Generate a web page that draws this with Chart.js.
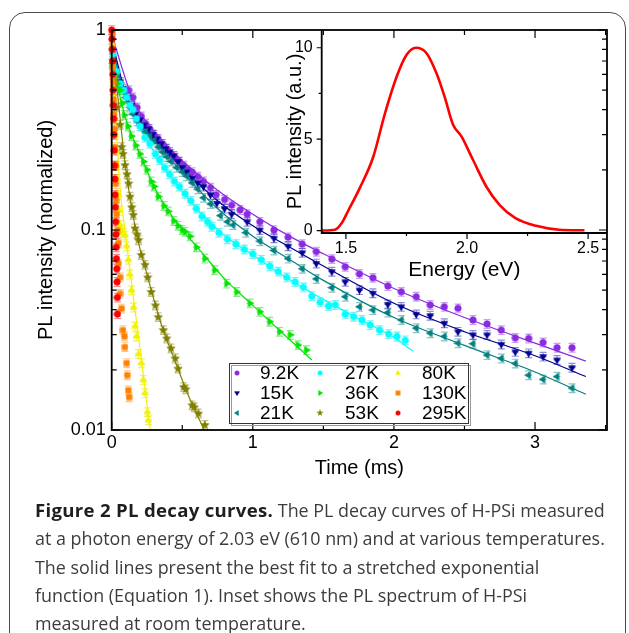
<!DOCTYPE html>
<html>
<head>
<meta charset="utf-8">
<script src="https://cdn.jsdelivr.net/npm/chart.js@4.4.1/dist/chart.umd.min.js"></script>
<style>
html, body { margin: 0; padding: 0; background: #fff; }
#wrap { position: relative; width: 629px; height: 633px; overflow: hidden; }
#frame { position: absolute; left: 9px; top: 12px; width: 615px; height: 640px; border: 1.5px solid #4a4a4a; border-radius: 16px; }
#main { position: absolute; left: 0; top: 0; }
#inset { position: absolute; left: 240px; top: 0; }
#caption { position: absolute; left: 35px; top: 496px; font-family: "Open Sans", sans-serif; font-size: 17.9px; line-height: 28.3px; color: #3c3c3c; white-space: nowrap; letter-spacing: 0px; }
#caption b { color: #1e1e1e; font-size: 18.6px; letter-spacing: 0.3px; }
</style>
</head>
<body>
<div id="wrap">
	<div id="frame"></div>
	<canvas id="main" width="629" height="500"></canvas>
	<canvas id="inset" width="389" height="290"></canvas>
	<div id="caption"><b>Figure 2 PL decay curves.</b> The PL decay curves of H-PSi measured<br>at a photon energy of 2.03 eV (610 nm) and at various temperatures.<br>The solid lines present the best fit to a stretched exponential<br>function (Equation 1). Inset shows the PL spectrum of H-PSi<br>measured at room temperature.</div>
</div>
<script>
// ---- data: [time (ms), normalized PL] ----
const seriesLabels = ['9.2K', '15K', '21K', '27K', '36K', '53K', '80K', '130K', '295K'];

const d9K = [[0.12,0.50],[0.15,0.46],[0.18,0.41],[0.21,0.37],[0.24,0.34],[0.27,0.32],[0.30,0.30],[0.33,0.285],[0.36,0.27],[0.39,0.255],[0.42,0.24],[0.45,0.23],[0.48,0.22],[0.51,0.21],[0.54,0.20],[0.57,0.195],[0.61,0.185],[0.65,0.175],[0.70,0.163],[0.74,0.150],[0.80,0.142],[0.85,0.133],[0.91,0.126],[0.96,0.120],[1.05,0.110],[1.15,0.100],[1.25,0.092],[1.35,0.085],[1.45,0.078],[1.56,0.0716],[1.655,0.0655],[1.756,0.0603],[1.851,0.0577],[1.957,0.0525],[2.052,0.0491],[2.158,0.0464],[2.257,0.0422],[2.357,0.0413],[2.454,0.0406],[2.56,0.0355],[2.66,0.0339],[2.761,0.0316],[2.86,0.0289],[2.955,0.0287],[3.057,0.0274],[3.156,0.0258],[3.262,0.0258]];
const d15K = [[0.06,0.55],[0.08,0.51],[0.11,0.46],[0.14,0.42],[0.17,0.38],[0.20,0.355],[0.23,0.335],[0.26,0.32],[0.29,0.30],[0.32,0.285],[0.35,0.27],[0.38,0.255],[0.41,0.245],[0.44,0.235],[0.47,0.22],[0.50,0.205],[0.53,0.195],[0.57,0.182],[0.61,0.172],[0.65,0.165],[0.70,0.150],[0.745,0.136],[0.80,0.128],[0.85,0.120],[0.96,0.110],[1.05,0.100],[1.15,0.091],[1.25,0.083],[1.35,0.077],[1.45,0.068],[1.56,0.0619],[1.655,0.0551],[1.756,0.0501],[1.851,0.0483],[1.957,0.0425],[2.052,0.0413],[2.158,0.0379],[2.257,0.0373],[2.357,0.0342],[2.454,0.031],[2.56,0.0299],[2.66,0.0299],[2.761,0.0268],[2.86,0.0246],[2.955,0.0242],[3.057,0.0233],[3.156,0.0224],[3.262,0.0205]];
const d21K = [[0.04,0.60],[0.07,0.52],[0.10,0.46],[0.13,0.41],[0.15,0.38],[0.18,0.35],[0.21,0.33],[0.24,0.31],[0.27,0.295],[0.30,0.28],[0.33,0.26],[0.36,0.245],[0.39,0.232],[0.42,0.22],[0.46,0.205],[0.50,0.195],[0.53,0.186],[0.57,0.172],[0.61,0.16],[0.65,0.145],[0.70,0.135],[0.77,0.118],[0.82,0.110],[0.86,0.106],[0.95,0.097],[1.05,0.088],[1.15,0.079],[1.25,0.072],[1.35,0.064],[1.45,0.057],[1.56,0.0515],[1.655,0.0464],[1.756,0.0413],[1.851,0.0398],[1.957,0.0387],[2.052,0.0355],[2.158,0.0323],[2.257,0.0305],[2.357,0.0294],[2.454,0.0272],[2.56,0.027],[2.66,0.0237],[2.761,0.0228],[2.86,0.0215],[2.955,0.0188],[3.057,0.0179],[3.156,0.0185],[3.262,0.0162]];
const d27K = [[0.01,0.76],[0.035,0.62],[0.06,0.54],[0.085,0.50],[0.106,0.46],[0.13,0.42],[0.15,0.40],[0.175,0.36],[0.20,0.33],[0.235,0.29],[0.27,0.27],[0.31,0.24],[0.34,0.224],[0.375,0.205],[0.41,0.19],[0.445,0.175],[0.48,0.165],[0.52,0.152],[0.56,0.14],[0.60,0.128],[0.64,0.117],[0.68,0.11],[0.71,0.104],[0.76,0.097],[0.82,0.090],[0.88,0.085],[0.94,0.080],[1.00,0.076],[1.06,0.071],[1.12,0.066],[1.18,0.062],[1.24,0.058],[1.30,0.055],[1.359,0.0517],[1.418,0.0467],[1.477,0.0435],[1.536,0.0417],[1.584,0.0422],[1.655,0.0379],[1.714,0.0369],[1.773,0.0355],[1.832,0.0335],[1.898,0.0316],[1.962,0.0302],[2.021,0.0294],[2.08,0.0281]];
const d36K = [[0.0,0.68],[0.02,0.60],[0.04,0.54],[0.06,0.50],[0.075,0.43],[0.09,0.376],[0.115,0.33],[0.14,0.295],[0.17,0.265],[0.20,0.24],[0.225,0.22],[0.25,0.20],[0.28,0.175],[0.30,0.165],[0.33,0.147],[0.37,0.132],[0.40,0.124],[0.44,0.111],[0.47,0.105],[0.50,0.100],[0.52,0.098],[0.555,0.093],[0.60,0.082],[0.66,0.072],[0.73,0.063],[0.815,0.054],[0.886,0.049],[0.98,0.043],[1.05,0.039],[1.12,0.0348],[1.19,0.031],[1.265,0.0299],[1.32,0.0266],[1.38,0.0251]];
const d53K = [[0.02,0.55],[0.035,0.41],[0.06,0.336],[0.07,0.26],[0.08,0.24],[0.094,0.211],[0.108,0.19],[0.12,0.171],[0.13,0.147],[0.142,0.13],[0.153,0.119],[0.165,0.102],[0.18,0.095],[0.19,0.089],[0.21,0.075],[0.236,0.067],[0.255,0.058],[0.28,0.049],[0.31,0.042],[0.33,0.0367],[0.366,0.0316],[0.39,0.0287],[0.42,0.0256],[0.45,0.0228],[0.47,0.0203],[0.51,0.0164],[0.525,0.0160],[0.57,0.0133],[0.585,0.0130],[0.615,0.0121],[0.66,0.0106]];
const d80K = [[0.005,0.85],[0.01,0.6],[0.015,0.45],[0.02,0.36],[0.025,0.30],[0.03,0.25],[0.035,0.21],[0.04,0.18],[0.047,0.15],[0.053,0.125],[0.059,0.106],[0.07,0.100],[0.082,0.097],[0.094,0.094],[0.106,0.083],[0.118,0.071],[0.128,0.060],[0.14,0.050],[0.155,0.041],[0.165,0.033],[0.177,0.0294],[0.19,0.024],[0.21,0.0216],[0.224,0.0178],[0.236,0.0153],[0.253,0.0123],[0.26,0.0112]];
const d130K = [[0.003,0.95],[0.006,0.8],[0.008,0.65],[0.01,0.55],[0.013,0.45],[0.016,0.38],[0.019,0.32],[0.022,0.26],[0.025,0.21],[0.028,0.17],[0.031,0.14],[0.035,0.12],[0.04,0.10],[0.047,0.086],[0.047,0.068],[0.059,0.058],[0.059,0.048],[0.07,0.0405],[0.08,0.0316],[0.09,0.0294],[0.094,0.026],[0.106,0.0216],[0.11,0.0188],[0.118,0.0158],[0.123,0.0146]];
const d295K = [[0.0,1.0],[0.002,0.9],[0.004,0.8],[0.006,0.7],[0.008,0.6],[0.01,0.5],[0.012,0.42],[0.014,0.36],[0.016,0.3],[0.018,0.25],[0.02,0.21],[0.022,0.18],[0.024,0.15],[0.026,0.13],[0.028,0.11],[0.03,0.095],[0.032,0.082],[0.034,0.072],[0.036,0.064],[0.038,0.055],[0.04,0.046],[0.041,0.038]];

// stretched-exponential fit curves
const fit9K = [[0,0.95],[0.15,0.45],[0.3,0.31],[0.5,0.222],[0.75,0.158],[1.0,0.12],[1.25,0.094],[1.5,0.076],[2.0,0.051],[2.5,0.0365],[3.0,0.0272],[3.36,0.0221]];
const fit15K = [[0,0.9],[0.1,0.48],[0.3,0.29],[0.5,0.205],[0.75,0.14],[1.0,0.105],[1.25,0.083],[1.5,0.066],[2.0,0.043],[2.5,0.031],[3.0,0.0235],[3.36,0.0185]];
const fit21K = [[0,0.85],[0.1,0.45],[0.3,0.28],[0.5,0.195],[0.75,0.128],[1.0,0.093],[1.25,0.072],[1.5,0.056],[2.0,0.0365],[2.5,0.0265],[3.0,0.0195],[3.36,0.0151]];
const fit27K = [[0,0.8],[0.1,0.46],[0.3,0.245],[0.5,0.156],[0.75,0.1],[1.0,0.075],[1.25,0.057],[1.5,0.045],[1.75,0.036],[2.0,0.029],[2.135,0.0248]];
const fit36K = [[0,0.7],[0.1,0.36],[0.2,0.24],[0.3,0.165],[0.4,0.125],[0.5,0.1],[0.6,0.083],[0.8,0.057],[1.0,0.042],[1.2,0.031],[1.418,0.0224]];
const fit53K = [[0,0.9],[0.05,0.42],[0.1,0.2],[0.17,0.1],[0.25,0.06],[0.35,0.034],[0.45,0.022],[0.55,0.0145],[0.65,0.0102],[0.67,0.0095]];
const fit80K = [[0,1],[0.03,0.35],[0.06,0.16],[0.094,0.1],[0.14,0.055],[0.18,0.033],[0.22,0.02],[0.26,0.0118],[0.275,0.0098]];

// error bars: time uncertainty (ms) and relative intensity uncertainty
const timeErr = 0.025;
const relErr = 0.05;

// axis ticks
const timeTicks = [0, 1, 2, 3];
const plTicks = [0.01, 0.1, 1];

// inset: room temperature PL spectrum
const energy = [1.40,1.455,1.482,1.51,1.558,1.613,1.661,1.709,1.75,1.789,1.833,1.874,1.908,1.942,1.977,2.025,2.08,2.135,2.2,2.285,2.38,2.485];
const plSpectrum = [0,0.05,0.4,1.1,2.35,4.04,6.4,8.4,9.6,10,9.7,8.6,7.3,5.8,5.15,3.86,2.4,1.4,0.68,0.26,0.05,0.02];
const energyTicks = [1.5, 2.0, 2.5];
const spectrumTicks = [0, 5, 10];


Chart.defaults.font.family = '"Liberation Sans", Arial, sans-serif';
Chart.defaults.color = '#000';

/**
 * 마커 이미지 (채워진 도형)
 */
function makeMarker(shape, color, size) {
	const c = document.createElement('canvas');
	c.width = c.height = size;
	const g = c.getContext('2d');
	const r = size / 2;
	g.fillStyle = color;
	g.translate(r, r);
	g.beginPath();
	if (shape === 'circle') {
		g.arc(0, 0, r - 0.5, 0, Math.PI * 2);
	} else if (shape === 'rect') {
		g.rect(-r + 0.5, -r + 0.5, size - 1, size - 1);
	} else if (shape === 'star') {
		for (let k = 0; k < 10; k++) {
			const a = -Math.PI / 2 + k * Math.PI / 5;
			const rr = k % 2 ? r * 0.45 : r;
			g.lineTo(rr * Math.cos(a), rr * Math.sin(a));
		}
		g.closePath();
	} else {
		const ang = {up: -90, down: 90, left: 180, right: 0}[shape] * Math.PI / 180;
		for (let k = 0; k < 3; k++) {
			const a = ang + k * 2 * Math.PI / 3;
			g.lineTo(r * Math.cos(a), r * Math.sin(a));
		}
		g.closePath();
	}
	g.fill();
	return c;
}

const pts = arr => arr.map(p => ({x: p[0], y: p[1]}));

const seriesData = [d9K, d15K, d21K, d27K, d36K, d53K, d80K, d130K, d295K];
const fitData = [fit9K, fit15K, fit21K, fit27K, fit36K, fit53K, fit80K, null, null];
const colors = ['#8a2be2', '#000096', '#008080', '#00ffff', '#00e600', '#808000', '#f2f200', '#ff8000', '#ff0000'];
const errColors = ['rgba(138,43,226,0.45)', 'rgba(0,0,150,0.45)', 'rgba(0,128,128,0.45)', 'rgba(0,220,220,0.5)', 'rgba(0,200,0,0.45)', 'rgba(128,128,0,0.45)', 'rgba(230,230,0,0.6)', 'rgba(255,128,0,0.45)', 'rgba(255,0,0,0.45)'];
const shapes = ['circle', 'down', 'left', 'circle', 'right', 'star', 'up', 'rect', 'circle'];
const sizes = [8, 9, 9, 8, 9, 10, 9, 7, 8];
const markers = shapes.map((s, i) => makeMarker(s, colors[i], sizes[i]));

let datasets = [];
seriesData.forEach((d, i) => {
	datasets.push({
		label: seriesLabels[i],
		data: pts(d),
		showLine: false,
		pointStyle: markers[i],
		pointRadius: sizes[i] / 2,
		errColor: errColors[i],
		hasErr: true,
		order: i === 8 ? 0 : 10 - i,
		clip: 6
	});
	if (fitData[i]) {
		datasets.push({
			label: seriesLabels[i] + ' fit',
			data: pts(fitData[i]),
			showLine: true,
			borderColor: colors[i],
			borderWidth: 1.2,
			pointRadius: 0,
			cubicInterpolationMode: 'monotone',
			order: 100 + i
		});
	}
});

/**
 * 에러바 (반투명)
 */
const errorBars = {
	id: 'errorBars',
	beforeDatasetsDraw(chart) {
		const {ctx, chartArea: a, scales: {x, y}} = chart;
		ctx.save();
		ctx.beginPath();
		ctx.rect(a.left - 6, a.top - 6, a.right - a.left + 12, a.bottom - a.top + 6);
		ctx.clip();
		ctx.lineWidth = 1.2;
		chart.data.datasets.forEach(ds => {
			if (!ds.hasErr) return;
			ctx.strokeStyle = ds.errColor;
			ds.data.forEach(p => {
				const px = x.getPixelForValue(p.x), py = y.getPixelForValue(p.y);
				const x0 = x.getPixelForValue(p.x - timeErr), x1 = x.getPixelForValue(p.x + timeErr);
				const y0 = y.getPixelForValue(p.y * (1 - relErr)), y1 = y.getPixelForValue(p.y * (1 + relErr));
				ctx.beginPath();
				ctx.moveTo(x0, py); ctx.lineTo(x1, py);
				ctx.moveTo(px, y0); ctx.lineTo(px, y1);
				ctx.moveTo(px - 3.5, y0); ctx.lineTo(px + 3.5, y0);
				ctx.moveTo(px - 3.5, y1); ctx.lineTo(px + 3.5, y1);
				ctx.stroke();
			});
		});
		ctx.restore();
	}
};

/**
 * 프레임, 안쪽 눈금, 범례
 */
const frameAndLegend = {
	id: 'frameAndLegend',
	afterDatasetsDraw(chart) {
		const {ctx, chartArea: a, scales: {x, y}} = chart;
		ctx.save();
		ctx.strokeStyle = '#000';
		ctx.lineWidth = 1.2;
		ctx.beginPath();
		// x ticks (bottom + top)
		for (let v = 0; v <= 3.5; v += 0.5) {
			const px = x.getPixelForValue(v);
			const len = (v % 1 === 0) ? 8 : 5;
			ctx.moveTo(px, a.bottom); ctx.lineTo(px, a.bottom - len);
			ctx.moveTo(px, a.top); ctx.lineTo(px, a.top + len);
		}
		// y ticks (left + right), log
		plTicks.forEach(dec => {
			for (let m = 1; m <= 9; m++) {
				const v = dec * m;
				if (v > 1.0001) break;
				const py = y.getPixelForValue(v);
				const len = m === 1 ? 8 : 5;
				ctx.moveTo(a.left, py); ctx.lineTo(a.left + len, py);
				ctx.moveTo(a.right, py); ctx.lineTo(a.right - len, py);
			}
		});
		ctx.stroke();
		ctx.lineWidth = 1.8;
		ctx.strokeRect(a.left, a.top, a.right - a.left, a.bottom - a.top);

		// legend box
		const bx = 229, by = 363, bw = 239, bh = 60;
		ctx.fillStyle = '#fff';
		ctx.fillRect(bx, by, bw, bh);
		ctx.lineWidth = 1;
		ctx.strokeStyle = '#9a9a9a';
		ctx.strokeRect(bx + 2.5, by + 2.5, bw, bh);
		ctx.strokeStyle = '#333';
		ctx.strokeRect(bx + 0.5, by + 0.5, bw, bh);
		ctx.fillStyle = '#000';
		ctx.font = '19px "Liberation Sans", Arial, sans-serif';
		ctx.textBaseline = 'middle';
		const colX = [237, 320, 398], textX = [260, 345, 422], rowY = [373, 393, 413];
		seriesLabels.forEach((lab, i) => {
			const c = Math.floor(i / 3), r = i % 3;
			const m = markers[i];
			const s = 0.72;
			ctx.drawImage(m, colX[c] - m.width * s / 2, rowY[r] - m.height * s / 2, m.width * s, m.height * s);
			ctx.fillText(lab, textX[c], rowY[r] + 1);
		});
		ctx.restore();
	}
};

let mainChart = new Chart(document.getElementById('main'), {
	type: 'scatter',
	data: {datasets: datasets},
	options: {
		responsive: false,
		animation: false,
		events: [],
		layout: {padding: {top: 30, right: 22, left: 0, bottom: 0}},
		plugins: {legend: {display: false}, tooltip: {enabled: false}},
		scales: {
			x: {
				type: 'linear',
				min: 0,
				max: 3.51,
				afterBuildTicks: s => { s.ticks = timeTicks.map(v => ({value: v})); },
				afterFit: s => { s.height = 70; },
				grid: {display: false, drawTicks: false},
				border: {display: false},
				ticks: {font: {size: 18}, padding: 2, maxRotation: 0, autoSkip: false, callback: v => String(v)},
				title: {display: true, text: 'Time (ms)', font: {size: 20}, padding: {top: 0, bottom: 20}}
			},
			y: {
				type: 'logarithmic',
				min: 0.01,
				max: 1,
				afterBuildTicks: s => { s.ticks = plTicks.map(v => ({value: v})); },
				afterFit: s => { s.width = 111.7; },
				grid: {display: false, drawTicks: false},
				border: {display: false},
				ticks: {font: {size: 18}, padding: 6, autoSkip: false, callback: v => String(v)},
				title: {display: true, text: 'PL intensity (normalized)', font: {size: 20}, padding: {top: 34, bottom: 0}}
			}
		}
	},
	plugins: [errorBars, frameAndLegend]
});

/**
 * 인셋 축 (바깥쪽 눈금)
 */
const insetAxes = {
	id: 'insetAxes',
	afterDraw(chart) {
		const {ctx, chartArea: a, scales: {x, y}} = chart;
		ctx.save();
		ctx.strokeStyle = '#000';
		ctx.lineWidth = 1.2;
		ctx.beginPath();
		for (let v = 0; v <= 10; v += 2.5) {
			const py = y.getPixelForValue(v);
			ctx.moveTo(a.left, py); ctx.lineTo(a.left - (v % 5 === 0 ? 5 : 3), py);
		}
		for (let v = 1.5; v <= 2.5001; v += 0.25) {
			const px = x.getPixelForValue(v);
			const major = Math.abs(v * 2 - Math.round(v * 2)) < 1e-6;
			ctx.moveTo(px, a.bottom); ctx.lineTo(px, a.bottom + (major ? 6 : 3));
		}
		ctx.stroke();
		ctx.lineWidth = 1.8;
		ctx.beginPath();
		ctx.moveTo(a.left, a.top); ctx.lineTo(a.left, a.bottom); ctx.lineTo(a.right, a.bottom);
		ctx.stroke();
		ctx.restore();
	}
};

let insetChart = new Chart(document.getElementById('inset'), {
	type: 'line',
	data: {
		datasets: [{
			data: energy.map((e, i) => ({x: e, y: plSpectrum[i]})),
			borderColor: '#ff0000',
			borderWidth: 2.6,
			pointRadius: 0,
			cubicInterpolationMode: 'monotone'
		}]
	},
	options: {
		responsive: false,
		animation: false,
		events: [],
		layout: {padding: {top: 30, right: 22, left: 0, bottom: 0}},
		plugins: {legend: {display: false}, tooltip: {enabled: false}},
		scales: {
			x: {
				type: 'linear',
				min: 1.4,
				max: 2.578,
				afterBuildTicks: s => { s.ticks = energyTicks.map(v => ({value: v})); },
				afterFit: s => { s.height = 57; },
				grid: {display: false, drawTicks: false},
				border: {display: false},
				ticks: {font: {size: 16}, padding: 6, maxRotation: 0, autoSkip: false, callback: v => v.toFixed(1)},
				title: {display: true, text: 'Energy (eV)', font: {size: 21}, padding: {top: 0, bottom: 7}}
			},
			y: {
				type: 'linear',
				min: -0.13,
				max: 10.97,
				afterBuildTicks: s => { s.ticks = spectrumTicks.map(v => ({value: v})); },
				afterFit: s => { s.width = 81.7; },
				grid: {display: false, drawTicks: false},
				border: {display: false},
				ticks: {font: {size: 16}, padding: 9, autoSkip: false, callback: v => String(v)},
				title: {display: true, text: 'PL intensity (a.u.)', font: {size: 20}, padding: {top: 43, bottom: 0}}
			}
		}
	},
	plugins: [insetAxes]
});
</script>
</body>
</html>
